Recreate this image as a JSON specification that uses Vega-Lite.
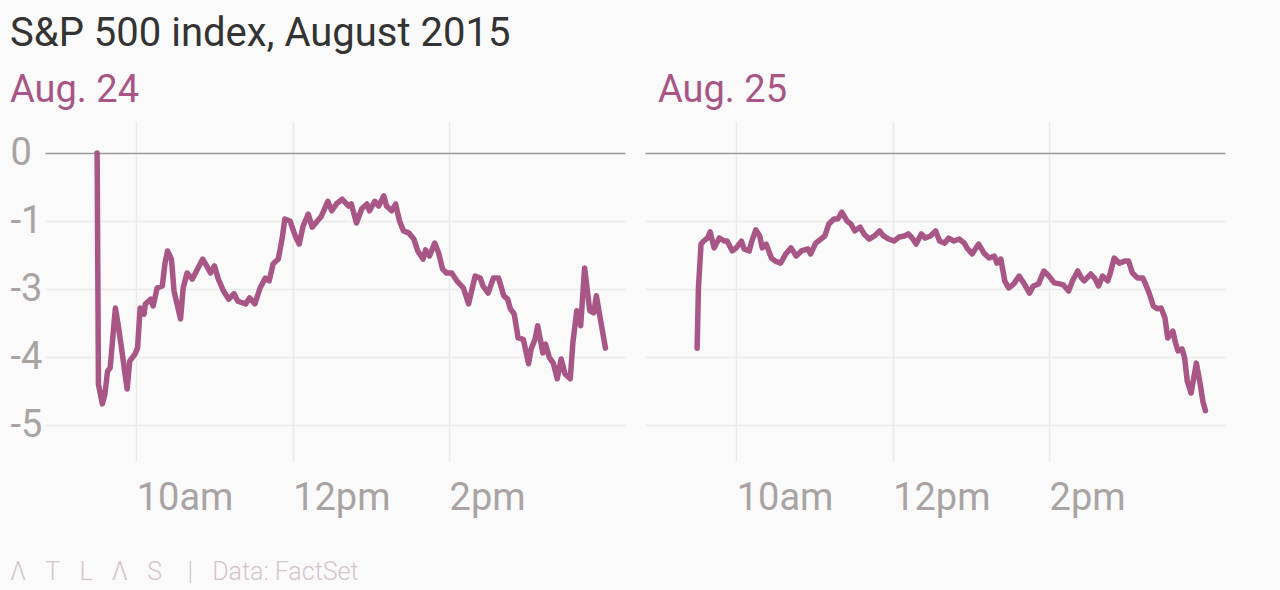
{
  "$schema": "https://vega.github.io/schema/vega-lite/v6.json",
  "background": "#fafafa",
  "padding": {"left": 10, "top": 14, "right": 55, "bottom": 5},
  "config": {
    "font": "Roboto",
    "view": {"stroke": null},
    "axis": {"labelFont": "Roboto", "labelColor": "#a9a3a3", "labelFontSize": 38, "ticks": false, "domain": false, "title": null, "gridColor": "#ebebeb", "gridWidth": 1.5}
  },
  "datasets": {
    "aug24": [
      {"time": "2015-08-24T09:30", "pct": 0},
      {"time": "2015-08-24T09:31", "pct": -4.40},
      {"time": "2015-08-24T09:34", "pct": -4.69},
      {"time": "2015-08-24T09:36", "pct": -4.54},
      {"time": "2015-08-24T09:38", "pct": -4.21},
      {"time": "2015-08-24T09:40", "pct": -4.16},
      {"time": "2015-08-24T09:44", "pct": -3.28},
      {"time": "2015-08-24T09:46", "pct": -3.51},
      {"time": "2015-08-24T09:49", "pct": -3.91},
      {"time": "2015-08-24T09:53", "pct": -4.47},
      {"time": "2015-08-24T09:55", "pct": -4.06},
      {"time": "2015-08-24T09:59", "pct": -3.96},
      {"time": "2015-08-24T10:01", "pct": -3.87},
      {"time": "2015-08-24T10:03", "pct": -3.28},
      {"time": "2015-08-24T10:06", "pct": -3.37},
      {"time": "2015-08-24T10:07", "pct": -3.22},
      {"time": "2015-08-24T10:11", "pct": -3.15},
      {"time": "2015-08-24T10:13", "pct": -3.25},
      {"time": "2015-08-24T10:16", "pct": -2.97},
      {"time": "2015-08-24T10:20", "pct": -2.91},
      {"time": "2015-08-24T10:22", "pct": -2.26},
      {"time": "2015-08-24T10:24", "pct": -1.88},
      {"time": "2015-08-24T10:27", "pct": -2.12},
      {"time": "2015-08-24T10:29", "pct": -3.03},
      {"time": "2015-08-24T10:34", "pct": -3.44},
      {"time": "2015-08-24T10:36", "pct": -2.97},
      {"time": "2015-08-24T10:39", "pct": -2.53},
      {"time": "2015-08-24T10:43", "pct": -2.71},
      {"time": "2015-08-24T10:47", "pct": -2.41},
      {"time": "2015-08-24T10:51", "pct": -2.12},
      {"time": "2015-08-24T10:54", "pct": -2.32},
      {"time": "2015-08-24T10:57", "pct": -2.53},
      {"time": "2015-08-24T11:00", "pct": -2.32},
      {"time": "2015-08-24T11:03", "pct": -2.71},
      {"time": "2015-08-24T11:07", "pct": -3.03},
      {"time": "2015-08-24T11:11", "pct": -3.15},
      {"time": "2015-08-24T11:15", "pct": -3.07},
      {"time": "2015-08-24T11:18", "pct": -3.18},
      {"time": "2015-08-24T11:24", "pct": -3.22},
      {"time": "2015-08-24T11:27", "pct": -3.13},
      {"time": "2015-08-24T11:31", "pct": -3.22},
      {"time": "2015-08-24T11:35", "pct": -2.97},
      {"time": "2015-08-24T11:39", "pct": -2.68},
      {"time": "2015-08-24T11:42", "pct": -2.76},
      {"time": "2015-08-24T11:45", "pct": -2.26},
      {"time": "2015-08-24T11:49", "pct": -2.12},
      {"time": "2015-08-24T11:52", "pct": -1.50},
      {"time": "2015-08-24T11:54", "pct": -0.97},
      {"time": "2015-08-24T11:58", "pct": -1.00},
      {"time": "2015-08-24T12:02", "pct": -1.44},
      {"time": "2015-08-24T12:05", "pct": -1.68},
      {"time": "2015-08-24T12:08", "pct": -1.15},
      {"time": "2015-08-24T12:12", "pct": -0.90},
      {"time": "2015-08-24T12:15", "pct": -1.18},
      {"time": "2015-08-24T12:19", "pct": -1.00},
      {"time": "2015-08-24T12:22", "pct": -0.93},
      {"time": "2015-08-24T12:27", "pct": -0.71},
      {"time": "2015-08-24T12:30", "pct": -0.85},
      {"time": "2015-08-24T12:34", "pct": -0.74},
      {"time": "2015-08-24T12:38", "pct": -0.68},
      {"time": "2015-08-24T12:43", "pct": -0.78},
      {"time": "2015-08-24T12:45", "pct": -0.75},
      {"time": "2015-08-24T12:49", "pct": -1.06},
      {"time": "2015-08-24T12:53", "pct": -0.82},
      {"time": "2015-08-24T12:57", "pct": -0.75},
      {"time": "2015-08-24T12:59", "pct": -0.85},
      {"time": "2015-08-24T13:03", "pct": -0.71},
      {"time": "2015-08-24T13:06", "pct": -0.78},
      {"time": "2015-08-24T13:10", "pct": -0.63},
      {"time": "2015-08-24T13:12", "pct": -0.78},
      {"time": "2015-08-24T13:16", "pct": -0.85},
      {"time": "2015-08-24T13:19", "pct": -0.75},
      {"time": "2015-08-24T13:22", "pct": -1.00},
      {"time": "2015-08-24T13:25", "pct": -1.29},
      {"time": "2015-08-24T13:29", "pct": -1.35},
      {"time": "2015-08-24T13:33", "pct": -1.53},
      {"time": "2015-08-24T13:36", "pct": -1.88},
      {"time": "2015-08-24T13:40", "pct": -2.12},
      {"time": "2015-08-24T13:42", "pct": -1.85},
      {"time": "2015-08-24T13:45", "pct": -2.03},
      {"time": "2015-08-24T13:49", "pct": -1.65},
      {"time": "2015-08-24T13:52", "pct": -1.94},
      {"time": "2015-08-24T13:55", "pct": -2.41},
      {"time": "2015-08-24T13:58", "pct": -2.53},
      {"time": "2015-08-24T14:02", "pct": -2.53},
      {"time": "2015-08-24T14:06", "pct": -2.76},
      {"time": "2015-08-24T14:11", "pct": -2.97},
      {"time": "2015-08-24T14:15", "pct": -3.22},
      {"time": "2015-08-24T14:20", "pct": -2.62},
      {"time": "2015-08-24T14:24", "pct": -2.68},
      {"time": "2015-08-24T14:26", "pct": -2.91},
      {"time": "2015-08-24T14:30", "pct": -3.06},
      {"time": "2015-08-24T14:34", "pct": -2.68},
      {"time": "2015-08-24T14:38", "pct": -2.68},
      {"time": "2015-08-24T14:42", "pct": -3.10},
      {"time": "2015-08-24T14:45", "pct": -3.15},
      {"time": "2015-08-24T14:47", "pct": -3.29},
      {"time": "2015-08-24T14:50", "pct": -3.37},
      {"time": "2015-08-24T14:53", "pct": -3.72},
      {"time": "2015-08-24T14:57", "pct": -3.74},
      {"time": "2015-08-24T15:01", "pct": -4.10},
      {"time": "2015-08-24T15:03", "pct": -3.88},
      {"time": "2015-08-24T15:06", "pct": -3.74},
      {"time": "2015-08-24T15:08", "pct": -3.54},
      {"time": "2015-08-24T15:12", "pct": -3.94},
      {"time": "2015-08-24T15:14", "pct": -3.81},
      {"time": "2015-08-24T15:17", "pct": -4.01},
      {"time": "2015-08-24T15:20", "pct": -4.09},
      {"time": "2015-08-24T15:23", "pct": -4.32},
      {"time": "2015-08-24T15:26", "pct": -4.03},
      {"time": "2015-08-24T15:29", "pct": -4.25},
      {"time": "2015-08-24T15:33", "pct": -4.32},
      {"time": "2015-08-24T15:35", "pct": -3.79},
      {"time": "2015-08-24T15:38", "pct": -3.32},
      {"time": "2015-08-24T15:41", "pct": -3.54},
      {"time": "2015-08-24T15:44", "pct": -2.38},
      {"time": "2015-08-24T15:48", "pct": -3.32},
      {"time": "2015-08-24T15:51", "pct": -3.35},
      {"time": "2015-08-24T15:53", "pct": -3.10},
      {"time": "2015-08-24T15:57", "pct": -3.54},
      {"time": "2015-08-24T16:00", "pct": -3.87}
    ],
    "aug25": [
      {"time": "2015-08-25T09:30", "pct": -3.87},
      {"time": "2015-08-25T09:31", "pct": -2.97},
      {"time": "2015-08-25T09:33", "pct": -1.68},
      {"time": "2015-08-25T09:35", "pct": -1.59},
      {"time": "2015-08-25T09:38", "pct": -1.50},
      {"time": "2015-08-25T09:40", "pct": -1.32},
      {"time": "2015-08-25T09:43", "pct": -1.79},
      {"time": "2015-08-25T09:47", "pct": -1.50},
      {"time": "2015-08-25T09:51", "pct": -1.59},
      {"time": "2015-08-25T09:53", "pct": -1.59},
      {"time": "2015-08-25T09:57", "pct": -1.88},
      {"time": "2015-08-25T10:00", "pct": -1.79},
      {"time": "2015-08-25T10:04", "pct": -1.59},
      {"time": "2015-08-25T10:06", "pct": -1.82},
      {"time": "2015-08-25T10:10", "pct": -1.88},
      {"time": "2015-08-25T10:12", "pct": -1.59},
      {"time": "2015-08-25T10:15", "pct": -1.26},
      {"time": "2015-08-25T10:18", "pct": -1.44},
      {"time": "2015-08-25T10:20", "pct": -1.79},
      {"time": "2015-08-25T10:23", "pct": -1.68},
      {"time": "2015-08-25T10:27", "pct": -2.09},
      {"time": "2015-08-25T10:30", "pct": -2.18},
      {"time": "2015-08-25T10:34", "pct": -2.24},
      {"time": "2015-08-25T10:38", "pct": -1.97},
      {"time": "2015-08-25T10:42", "pct": -1.79},
      {"time": "2015-08-25T10:46", "pct": -2.03},
      {"time": "2015-08-25T10:50", "pct": -1.88},
      {"time": "2015-08-25T10:55", "pct": -1.82},
      {"time": "2015-08-25T10:57", "pct": -1.97},
      {"time": "2015-08-25T11:01", "pct": -1.65},
      {"time": "2015-08-25T11:06", "pct": -1.50},
      {"time": "2015-08-25T11:08", "pct": -1.44},
      {"time": "2015-08-25T11:11", "pct": -1.09},
      {"time": "2015-08-25T11:15", "pct": -0.97},
      {"time": "2015-08-25T11:18", "pct": -0.97},
      {"time": "2015-08-25T11:21", "pct": -0.87},
      {"time": "2015-08-25T11:25", "pct": -1.00},
      {"time": "2015-08-25T11:28", "pct": -1.09},
      {"time": "2015-08-25T11:31", "pct": -1.29},
      {"time": "2015-08-25T11:35", "pct": -1.18},
      {"time": "2015-08-25T11:38", "pct": -1.38},
      {"time": "2015-08-25T11:42", "pct": -1.53},
      {"time": "2015-08-25T11:46", "pct": -1.44},
      {"time": "2015-08-25T11:50", "pct": -1.29},
      {"time": "2015-08-25T11:53", "pct": -1.44},
      {"time": "2015-08-25T11:57", "pct": -1.53},
      {"time": "2015-08-25T12:01", "pct": -1.59},
      {"time": "2015-08-25T12:05", "pct": -1.47},
      {"time": "2015-08-25T12:09", "pct": -1.44},
      {"time": "2015-08-25T12:12", "pct": -1.38},
      {"time": "2015-08-25T12:15", "pct": -1.50},
      {"time": "2015-08-25T12:18", "pct": -1.68},
      {"time": "2015-08-25T12:22", "pct": -1.38},
      {"time": "2015-08-25T12:25", "pct": -1.50},
      {"time": "2015-08-25T12:29", "pct": -1.44},
      {"time": "2015-08-25T12:33", "pct": -1.29},
      {"time": "2015-08-25T12:36", "pct": -1.59},
      {"time": "2015-08-25T12:40", "pct": -1.65},
      {"time": "2015-08-25T12:43", "pct": -1.50},
      {"time": "2015-08-25T12:47", "pct": -1.59},
      {"time": "2015-08-25T12:51", "pct": -1.53},
      {"time": "2015-08-25T12:55", "pct": -1.65},
      {"time": "2015-08-25T12:57", "pct": -1.79},
      {"time": "2015-08-25T13:01", "pct": -1.97},
      {"time": "2015-08-25T13:04", "pct": -1.79},
      {"time": "2015-08-25T13:06", "pct": -1.68},
      {"time": "2015-08-25T13:10", "pct": -1.94},
      {"time": "2015-08-25T13:14", "pct": -2.09},
      {"time": "2015-08-25T13:18", "pct": -2.03},
      {"time": "2015-08-25T13:20", "pct": -2.24},
      {"time": "2015-08-25T13:23", "pct": -2.12},
      {"time": "2015-08-25T13:26", "pct": -2.76},
      {"time": "2015-08-25T13:29", "pct": -2.97},
      {"time": "2015-08-25T13:33", "pct": -2.85},
      {"time": "2015-08-25T13:37", "pct": -2.62},
      {"time": "2015-08-25T13:41", "pct": -2.85},
      {"time": "2015-08-25T13:45", "pct": -3.06},
      {"time": "2015-08-25T13:48", "pct": -2.91},
      {"time": "2015-08-25T13:52", "pct": -2.85},
      {"time": "2015-08-25T13:56", "pct": -2.47},
      {"time": "2015-08-25T14:00", "pct": -2.62},
      {"time": "2015-08-25T14:04", "pct": -2.82},
      {"time": "2015-08-25T14:08", "pct": -2.85},
      {"time": "2015-08-25T14:11", "pct": -2.88},
      {"time": "2015-08-25T14:15", "pct": -3.03},
      {"time": "2015-08-25T14:18", "pct": -2.76},
      {"time": "2015-08-25T14:22", "pct": -2.47},
      {"time": "2015-08-25T14:25", "pct": -2.68},
      {"time": "2015-08-25T14:27", "pct": -2.76},
      {"time": "2015-08-25T14:32", "pct": -2.56},
      {"time": "2015-08-25T14:35", "pct": -2.68},
      {"time": "2015-08-25T14:38", "pct": -2.91},
      {"time": "2015-08-25T14:41", "pct": -2.62},
      {"time": "2015-08-25T14:45", "pct": -2.76},
      {"time": "2015-08-25T14:47", "pct": -2.53},
      {"time": "2015-08-25T14:50", "pct": -2.09},
      {"time": "2015-08-25T14:54", "pct": -2.24},
      {"time": "2015-08-25T14:58", "pct": -2.18},
      {"time": "2015-08-25T15:01", "pct": -2.18},
      {"time": "2015-08-25T15:04", "pct": -2.53},
      {"time": "2015-08-25T15:08", "pct": -2.68},
      {"time": "2015-08-25T15:12", "pct": -2.68},
      {"time": "2015-08-25T15:14", "pct": -2.85},
      {"time": "2015-08-25T15:17", "pct": -3.07},
      {"time": "2015-08-25T15:20", "pct": -3.25},
      {"time": "2015-08-25T15:23", "pct": -3.29},
      {"time": "2015-08-25T15:26", "pct": -3.28},
      {"time": "2015-08-25T15:29", "pct": -3.43},
      {"time": "2015-08-25T15:31", "pct": -3.72},
      {"time": "2015-08-25T15:35", "pct": -3.62},
      {"time": "2015-08-25T15:37", "pct": -3.79},
      {"time": "2015-08-25T15:39", "pct": -3.91},
      {"time": "2015-08-25T15:42", "pct": -3.88},
      {"time": "2015-08-25T15:44", "pct": -4.01},
      {"time": "2015-08-25T15:46", "pct": -4.35},
      {"time": "2015-08-25T15:49", "pct": -4.53},
      {"time": "2015-08-25T15:53", "pct": -4.09},
      {"time": "2015-08-25T15:56", "pct": -4.40},
      {"time": "2015-08-25T15:58", "pct": -4.65},
      {"time": "2015-08-25T16:00", "pct": -4.79}
    ]
  },
  "title": {"text": "Λ\u2007\u2009T\u2007\u2009L\u2007\u2009Λ\u2007\u2009S\u2003|\u2007\u2009Data: FactSet", "orient": "bottom", "anchor": "start", "fontSize": 25, "fontWeight": 300, "color": "#d3c5cd", "offset": 43},
  "vconcat": [
    {
      "title": {"text": "S&P 500 index, August 2015", "anchor": "start", "fontSize": 40, "fontWeight": "normal", "color": "#333333", "offset": 18},
      "spacing": 20,
      "hconcat": [
        {
          "width": 580,
          "height": 340,
          "title": {"text": "Aug. 24", "anchor": "start", "fontSize": 38, "fontWeight": "normal", "color": "#a75685", "offset": 11},
          "data": {"name": "aug24"},
          "mark": {"type": "line", "color": "#a75685", "strokeWidth": 5.5, "strokeJoin": "round", "strokeCap": "round"},
          "encoding": {
            "x": {"field": "time", "type": "temporal", "timeUnit": "hoursminutes",
              "scale": {"domain": [{"hours": 8, "minutes": 50}, {"hours": 16, "minutes": 15}], "nice": false},
              "axis": {"values": [{"hours": 10}, {"hours": 12}, {"hours": 14}], "labelExpr": "lower(timeFormat(datum.value, '%-I%p'))", "grid": true, "labelAlign": "left", "labelPadding": 18, "labelFlush": false}},
            "y": {"field": "pct", "type": "quantitative",
              "scale": {"domain": [-5.53, -5, -4, -3, -1, 0, 0.47], "range": [340, 304, 236, 168, 100, 32, 0], "nice": false, "zero": false},
              "axis": {"values": [0, -1, -3, -4, -5], "labelExpr": "datum.value === 0 ? '0' : '-' + abs(datum.value)", "grid": true, "gridColor": {"condition": {"test": "datum.value === 0", "value": "#9a9a9a"}, "value": "#ebebeb"}, "labelAlign": "left", "labelPadding": 35}}
          }
        },
        {
          "width": 580,
          "height": 340,
          "title": {"text": "Aug. 25", "anchor": "start", "frame": "group", "dx": 13, "fontSize": 38, "fontWeight": "normal", "color": "#a75685", "offset": 11},
          "data": {"name": "aug25"},
          "mark": {"type": "line", "color": "#a75685", "strokeWidth": 5.5, "strokeJoin": "round", "strokeCap": "round"},
          "encoding": {
            "x": {"field": "time", "type": "temporal", "timeUnit": "hoursminutes",
              "scale": {"domain": [{"hours": 8, "minutes": 50}, {"hours": 16, "minutes": 15}], "nice": false},
              "axis": {"values": [{"hours": 10}, {"hours": 12}, {"hours": 14}], "labelExpr": "lower(timeFormat(datum.value, '%-I%p'))", "grid": true, "labelAlign": "left", "labelPadding": 18, "labelFlush": false}},
            "y": {"field": "pct", "type": "quantitative",
              "scale": {"domain": [-5.53, -5, -4, -3, -1, 0, 0.47], "range": [340, 304, 236, 168, 100, 32, 0], "nice": false, "zero": false},
              "axis": {"values": [0, -1, -3, -4, -5], "grid": true, "gridColor": {"condition": {"test": "datum.value === 0", "value": "#9a9a9a"}, "value": "#ebebeb"}, "labels": false, "labelPadding": 0}}
          }
        }
      ]
    }
  ]
}
